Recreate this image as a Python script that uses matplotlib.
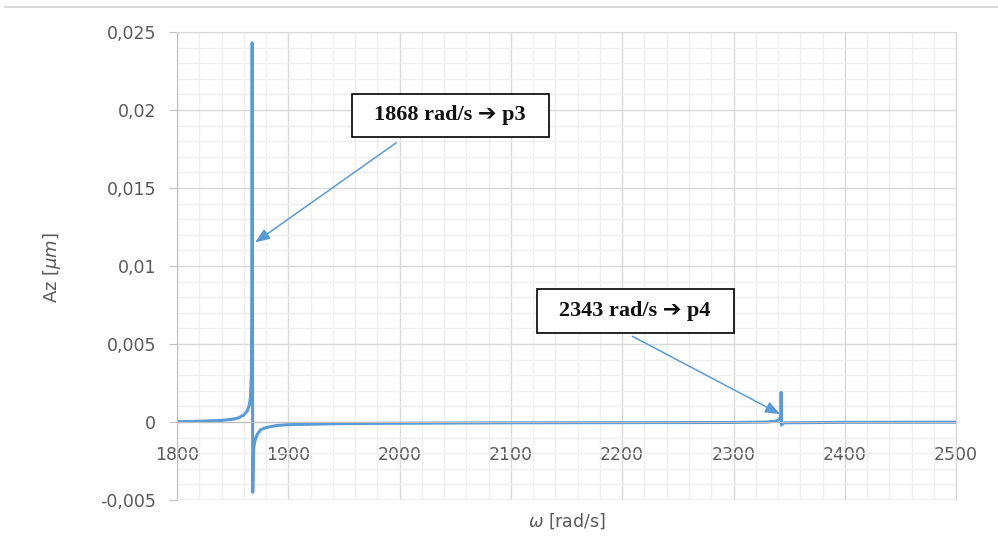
import matplotlib
matplotlib.use("Agg")
from matplotlib import pyplot as plt
from matplotlib.lines import Line2D
from matplotlib.patches import Rectangle
from matplotlib.ticker import MultipleLocator, FuncFormatter

# frequency response
omega = [1800, 1820, 1840, 1850, 1855, 1860, 1863, 1865, 1866, 1866.8, 1867.2, 1867.5,
         1868.0, 1868.5, 1869, 1870, 1872, 1875, 1880, 1890, 1900, 1950, 2000, 2100,
         2200, 2300, 2330, 2338, 2341, 2342.5, 2342.8, 2343.2, 2344, 2346, 2400, 2500]
az = [0.00002, 0.00005, 0.0001, 0.00018, 0.00026, 0.00045, 0.0007, 0.0011, 0.0016, 0.003,
      0.008, 0.0243, -0.0045, -0.0025, -0.0016, -0.0012, -0.0008, -0.0005, -0.00035,
      -0.00022, -0.00017, -0.0001, -0.00008, -0.00005, -0.00004, -0.00003, 0.0, 0.00005,
      0.00015, 0.0004, 0.0019, -0.0002, -0.0001, -0.00005, -0.00002, -0.00001]

x_ticks = list(range(1800, 2501, 100))
y_ticks = [-0.005, 0.0, 0.005, 0.01, 0.015, 0.02, 0.025]

labels = ["1868 rad/s \u2794 p3", "2343 rad/s \u2794 p4"]
label_pos = [(2045.5, 0.01965), (2211.5, 0.00712)]
arrow_from = [(1997, 0.0179), (2209, 0.0055)]
arrow_to = [(1870, 0.0115), (2342, 0.0005)]
box_w, box_h = 177, 0.0028

blue = "#5B9BD5"
grey_txt = "#595959"

fig = plt.figure(figsize=(9.98, 5.6), dpi=100)
ax = fig.add_axes([0.1774, 0.1071, 0.7806, 0.8358])
fig.add_artist(Line2D([0.005, 1.0], [0.9875, 0.9875], color="#d9d9d9", lw=1.5,
                      transform=fig.transFigure))

ax.plot(omega, az, color=blue, lw=2.2, solid_joinstyle="round")

ax.set_xlim(1800, 2500)
ax.set_ylim(-0.005, 0.025)
ax.set_xticks(x_ticks)
ax.set_yticks(y_ticks)
ax.xaxis.set_minor_locator(MultipleLocator(20))
ax.yaxis.set_minor_locator(MultipleLocator(0.001))
ax.yaxis.set_major_formatter(FuncFormatter(
    lambda v, p: "0" if abs(v) < 1e-9 else ("%g" % round(v, 4)).replace(".", ",")))

ax.grid(which="major", color="#d9d9d9", lw=1)
ax.grid(which="minor", color="#efefef", lw=1)
ax.set_axisbelow(True)

for s in ["top", "right"]:
    ax.spines[s].set_color("#d9d9d9")
ax.spines["left"].set_color("#bfbfbf")
ax.spines["bottom"].set_position(("data", 0))
ax.spines["bottom"].set_color("#bfbfbf")
ax.axhline(-0.005, color="#d9d9d9", lw=1)

ax.tick_params(axis="x", which="both", length=0, pad=17, labelsize=12.5, labelcolor=grey_txt)
ax.tick_params(axis="y", which="major", length=6, color="#bfbfbf", pad=9,
               labelsize=12.5, labelcolor=grey_txt)
ax.tick_params(axis="y", which="minor", length=0)

ax.set_xlabel(r"$\omega$ [rad/s]", fontsize=12.5, color=grey_txt)
ax.xaxis.set_label_coords(0.5, -0.045)
ax.xaxis.label.set_va("center")
ax.set_ylabel(r"Az [$\mu m$]", fontsize=13, color=grey_txt)
ax.yaxis.set_label_coords(-0.161, 0.496)
ax.yaxis.label.set_va("center")

for txt, (tx, ty), a0, a1 in zip(labels, label_pos, arrow_from, arrow_to):
    ax.annotate("", xy=a1, xytext=a0,
                arrowprops=dict(arrowstyle="-|>,head_length=0.9,head_width=0.35",
                                color=blue, lw=1.1, shrinkA=0, shrinkB=0))
    ax.add_patch(Rectangle((tx - box_w / 2, ty - box_h / 2), box_w, box_h,
                           fc="white", ec="black", lw=1.2, zorder=5))
    ax.text(tx, ty, txt, ha="center", va="center", fontsize=16, fontweight="bold",
            family=["Liberation Serif", "DejaVu Sans"], color="#111111", zorder=6)

fig.savefig("out.png", dpi=100)
